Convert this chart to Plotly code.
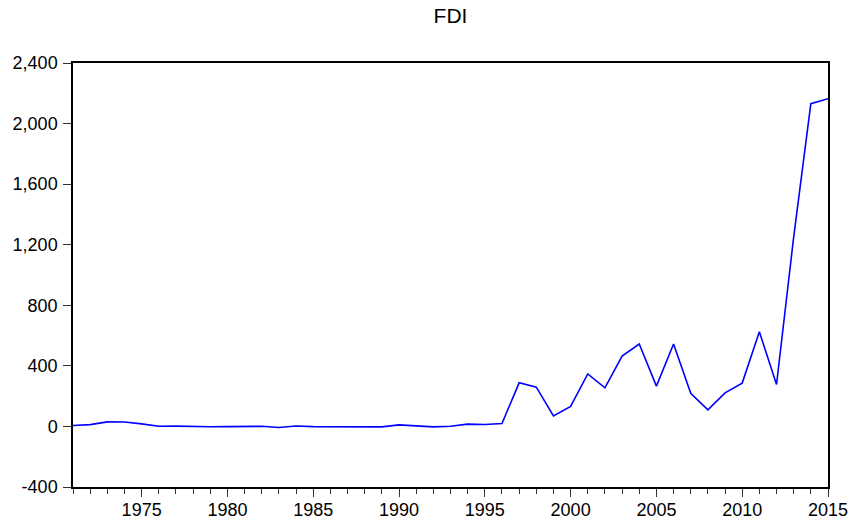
import plotly.graph_objects as go

years = list(range(1971, 2016))
fdi = [6, 12, 30, 29, 17, 1, 2, -2, -2, -1,
       -2, 1, -7, 3, -1, -2, -4, 0, -3, 10,
       2, -3, 1, 15, 13, 19, 288, 259, 70, 132,
       347, 255, 464, 544, 266, 544, 219, 109, 222, 286,
       625, 277, 1250, 2131, 2164]

y_ticks = [-400, 0, 400, 800, 1200, 1600, 2000, 2400]
y_tick_text = ["-400", "0", "400", "800", "1,200", "1,600", "2,000", "2,400"]
x_ticks = [1975, 1980, 1985, 1990, 1995, 2000, 2005, 2010, 2015]

fig = go.Figure()
fig.add_trace(go.Scatter(x=years, y=fdi, mode="lines",
                         line=dict(color="#0000FF", width=1.6),
                         showlegend=False, hoverinfo="x+y"))

font = dict(family="Liberation Sans, Arial, sans-serif", size=18, color="#000000")

fig.update_layout(
    width=850, height=522,
    margin=dict(l=72.5, r=22.3, t=63.3, b=35.3, autoexpand=False),
    paper_bgcolor="white", plot_bgcolor="white",
    font=font,
    title=dict(text="FDI", x=0.5, xanchor="center", xref="paper",
               y=1 - 15.5 / 522, yanchor="middle", yref="container",
               automargin=False,
               font=dict(family="Liberation Sans, Arial, sans-serif", size=21, color="#000000")),
    xaxis=dict(range=[1971, 2015], showgrid=False, zeroline=False, automargin=False,
               showline=True, linecolor="#000000", linewidth=1.5, mirror=True,
               tickmode="array", tickvals=x_ticks, ticktext=[str(v) for v in x_ticks],
               ticks="outside", ticklen=8, tickcolor="#333333", tickwidth=1,
               ticklabelstandoff=-2,
               minor=dict(dtick=1, tick0=1971, ticks="outside", ticklen=5,
                          tickcolor="#333333", tickwidth=1, showgrid=False),
               tickfont=font),
    yaxis=dict(range=[-400, 2400], showgrid=False, zeroline=False, automargin=False,
               showline=True, linecolor="#000000", linewidth=1.5, mirror=True,
               tickmode="array", tickvals=y_ticks, ticktext=y_tick_text,
               ticks="outside", ticklen=8, tickcolor="#333333", tickwidth=1,
               ticklabelstandoff=2,
               tickfont=font),
)

# remove the browser's default 8px body margin so the figure fills the window
fig.write_html("out.html", config={"displayModeBar": False},
               post_script="document.body.style.margin='0px';")
